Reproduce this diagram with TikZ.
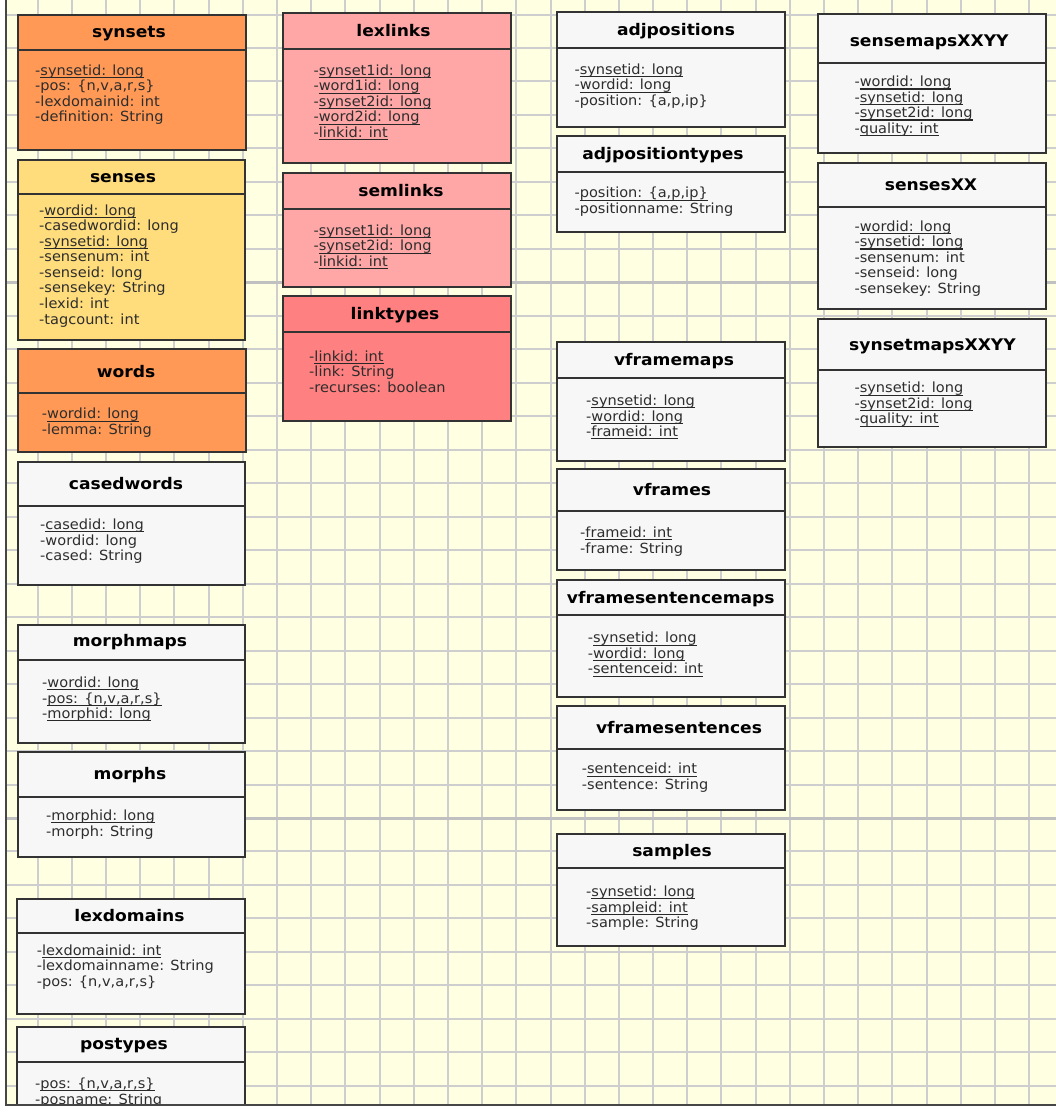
\documentclass[tikz,border=0pt]{standalone}
\usepackage{fontspec}
\setmainfont{DejaVu Sans}
\newfontfamily\ttlfamily[FakeStretch=1.07]{DejaVu Sans}
\newfontfamily\attrfamily[FakeStretch=1.04]{DejaVu Sans}

\definecolor{canvas}{RGB}{255,255,225}
\definecolor{gridcol}{RGB}{206,206,206}
\definecolor{majorcol}{RGB}{192,192,192}
\definecolor{border}{RGB}{51,51,51}
\definecolor{framecol}{RGB}{70,70,70}
\definecolor{corange}{RGB}{255,153,85}
\definecolor{cyellow}{RGB}{255,221,125}
\definecolor{cpink}{RGB}{255,166,166}
\definecolor{cred}{RGB}{255,128,128}
\definecolor{cplain}{RGB}{247,247,247}
\definecolor{attrcol}{RGB}{45,45,45}
\definecolor{keyline}{RGB}{40,40,40}

% primary-key attribute: underlined text
\newcommand\kk[1]{\setbox0\hbox{#1}\rlap{\color{keyline}\rule[-2.8pt]{\wd0}{1.1pt}}\box0}
% stacked attribute lines, baseline on the first line
\newcommand\attrs[1]{\vtop{\baselineskip=15.5pt\lineskiplimit=-20pt\lineskip=0pt\halign{##\hfil\cr#1\crcr}}}
% table frame: fill, left, top, right, divider, bottom
\newcommand\tablebox[6]{%
  \draw[tbl,fill=#1] (#2,#3) rectangle (#4,#6);
  \draw[tbl] (#2,#5) -- (#4,#5);}

\begin{document}
\begin{tikzpicture}[x=1pt,y=-1pt,
  gridline/.style={draw=gridcol,line width=1.5pt},
  majorline/.style={draw=majorcol,line width=2.5pt},
  tbl/.style={draw=border,line width=2pt},
  ttl/.style={inner sep=0pt,font={\ttlfamily\bfseries\fontsize{16}{18}\selectfont},text=black,
              text height=11.6pt,text depth=3.8pt,anchor=center},
  attr/.style={inner sep=0pt,anchor=base west,font={\attrfamily\fontsize{14}{15.5}\selectfont},text=attrcol},
  frameline/.style={draw=framecol,line width=2pt}]

\useasboundingbox (0,0) rectangle (1056,1115);
\fill[white] (0,0) rectangle (1056,1115);
\fill[canvas] (6,0) rectangle (1056,1105);

\begin{scope}
\clip (6,0) rectangle (1056,1105);
% background grid, snapped to whole pixels
\foreach \k in {0,...,30} {
  \pgfmathsetmacro\gx{round(3.5+34.19*\k)}
  \draw[gridline] (\gx,0) -- (\gx,1105);}
\foreach \k in {0,...,32} {
  \pgfmathsetmacro\gy{round(14.5+33.48*\k)}
  \draw[gridline] (6,\gy) -- (1056,\gy);}
\foreach \k in {8,24} {
  \pgfmathsetmacro\gy{round(14.5+33.48*\k)+0.5}
  \draw[majorline] (6,\gy) -- (1056,\gy);}

% ---- first column ----
\tablebox{corange}{18}{15}{245.5}{50}{150}
\node[ttl] (synsets) at (129,34) {synsets};
\node[attr] (synsets-attrs) at (35,75.2) {\attrs{-\kk{synsetid: long}\cr -pos: \{n,v,a,r,s\}\cr -lexdomainid: int\cr -definition: String}};

\tablebox{cyellow}{17.5}{160}{245}{194}{340}
\node[ttl] (senses) at (123,178.5) {senses};
\node[attr] (senses-attrs) at (39,215.5) {\attrs{-\kk{wordid: long}\cr -casedwordid: long\cr -\kk{synsetid: long}\cr -sensenum: int\cr -senseid: long\cr -sensekey: String\cr -lexid: int\cr -tagcount: int}};

\tablebox{corange}{18}{349.3}{245.5}{393.3}{452}
\node[ttl] (words) at (126,373.5) {words};
\node[attr] (words-attrs) at (41.7,418.8) {\attrs{-\kk{wordid: long}\cr -lemma: String}};

\tablebox{cplain}{17.5}{462}{245}{506}{585}
\node[ttl] (casedwords) at (126,486) {casedwords};
\node[attr] (casedwords-attrs) at (40,529.5) {\attrs{-\kk{casedid: long}\cr -wordid: long\cr -cased: String}};

\tablebox{cplain}{17.5}{625}{245}{660}{743}
\node[ttl] (morphmaps) at (130,643) {morphmaps};
\node[attr] (morphmaps-attrs) at (42,687.5) {\attrs{-\kk{wordid: long}\cr -\kk{pos: \{n,v,a,r,s\}}\cr -\kk{morphid: long}}};

\tablebox{cplain}{17.5}{752}{245}{797}{857}
\node[ttl] (morphs) at (130,776) {morphs};
\node[attr] (morphs-attrs) at (46,820.5) {\attrs{-\kk{morphid: long}\cr -morph: String}};

\tablebox{cplain}{16.7}{899}{245}{933.3}{1014.3}
\node[ttl] (lexdomains) at (129.5,917.5) {lexdomains};
\node[attr] (lexdomains-attrs) at (36.7,955.2) {\attrs{-\kk{lexdomainid: int}\cr -lexdomainname: String\cr -pos: \{n,v,a,r,s\}}};

\tablebox{cplain}{17}{1026.7}{245}{1062}{1125}
\node[ttl] (postypes) at (124,1045.5) {postypes};
\node[attr] (postypes-attrs) at (35,1088.5) {\attrs{-\kk{pos: \{n,v,a,r,s\}}\cr -posname: String}};

% ---- second column ----
\tablebox{cpink}{283.3}{13.3}{511}{49}{163.3}
\node[ttl] (lexlinks) at (393.5,33) {lexlinks};
\node[attr] (lexlinks-attrs) at (313.3,75.5) {\attrs{-\kk{synset1id: long}\cr -\kk{word1id: long}\cr -\kk{synset2id: long}\cr -\kk{word2id: long}\cr -\kk{linkid: int}}};

\tablebox{cpink}{283.3}{173.3}{511}{209.3}{287.3}
\node[ttl] (semlinks) at (401,193) {semlinks};
\node[attr] (semlinks-attrs) at (313.3,235.5) {\attrs{-\kk{synset1id: long}\cr -\kk{synset2id: long}\cr -\kk{linkid: int}}};

\tablebox{cred}{283.3}{296}{511}{332}{421}
\node[ttl] (linktypes) at (395,315.5) {linktypes};
\node[attr] (linktypes-attrs) at (309,361.2) {\attrs{-\kk{linkid: int}\cr -link: String\cr -recurses: boolean}};

% ---- third column ----
\tablebox{cplain}{556.7}{12.3}{785}{47.7}{126.7}
\node[ttl] (adjpositions) at (676,31.5) {adjpositions};
\node[attr] (adjpositions-attrs) at (574.3,74.5) {\attrs{-\kk{synsetid: long}\cr -\kk{wordid: long}\cr -position: \{a,p,ip\}}};

\tablebox{cplain}{556.7}{136}{785}{172.3}{231.7}
\node[ttl] (adjpositiontypes) at (663,155.5) {adjpositiontypes};
\node[attr] (adjpositiontypes-attrs) at (574.3,197.8) {\attrs{-\kk{position: \{a,p,ip\}}\cr -positionname: String}};

\tablebox{cplain}{557}{342}{785}{378}{461}
\node[ttl] (vframemaps) at (674,361.5) {vframemaps};
\node[attr] (vframemaps-attrs) at (586,405.5) {\attrs{-\kk{synsetid: long}\cr -\kk{wordid: long}\cr -\kk{frameid: int}}};

\tablebox{cplain}{557}{469}{785}{511}{570}
\node[ttl] (vframes) at (672,491.5) {vframes};
\node[attr] (vframes-attrs) at (580,537.5) {\attrs{-\kk{frameid: int}\cr -frame: String}};

\tablebox{cplain}{556.7}{580}{785}{615}{697.3}
\node[ttl] (vframesentencemaps) at (670.8,599.5) {vframesentencemaps};
\node[attr] (vframesentencemaps-attrs) at (587.7,642.8) {\attrs{-\kk{synsetid: long}\cr -\kk{wordid: long}\cr -\kk{sentenceid: int}}};

\tablebox{cplain}{557}{705.7}{785}{749}{810}
\node[ttl] (vframesentences) at (679,729.5) {vframesentences};
\node[attr] (vframesentences-attrs) at (581.7,773.8) {\attrs{-\kk{sentenceid: int}\cr -sentence: String}};

\tablebox{cplain}{557}{834}{785}{868}{946}
\node[ttl] (samples) at (672,852.5) {samples};
\node[attr] (samples-attrs) at (586,896.5) {\attrs{-\kk{synsetid: long}\cr -\kk{sampleid: int}\cr -sample: String}};

% ---- fourth column ----
\tablebox{cplain}{818.3}{14.3}{1045.7}{63.3}{153.3}
\node[ttl] (sensemapsXXYY) at (929.2,42.5) {sensemapsXXYY};
\node[attr] (sensemapsXXYY-attrs) at (854.3,86.8) {\attrs{-\kk{wordid: long}\cr -\kk{synsetid: long}\cr -\kk{synset2id: long}\cr -\kk{quality: int}}};

\tablebox{cplain}{818.3}{163.3}{1045.7}{207.3}{309.3}
\node[ttl] (sensesXX) at (931,186.5) {sensesXX};
\node[attr] (sensesXX-attrs) at (854.3,231.2) {\attrs{-\kk{wordid: long}\cr -\kk{synsetid: long}\cr -sensenum: int\cr -senseid: long\cr -sensekey: String}};

\tablebox{cplain}{818.3}{319.3}{1045.7}{370}{446.7}
\node[ttl] (synsetmapsXXYY) at (932.5,346.5) {synsetmapsXXYY};
\node[attr] (synsetmapsXXYY-attrs) at (854.3,392.8) {\attrs{-\kk{synsetid: long}\cr -\kk{synset2id: long}\cr -\kk{quality: int}}};
\end{scope}

% window edge along the left and bottom of the canvas
\draw[frameline] (6,0) -- (6,1105) -- (1056,1105);
\end{tikzpicture}
\end{document}
